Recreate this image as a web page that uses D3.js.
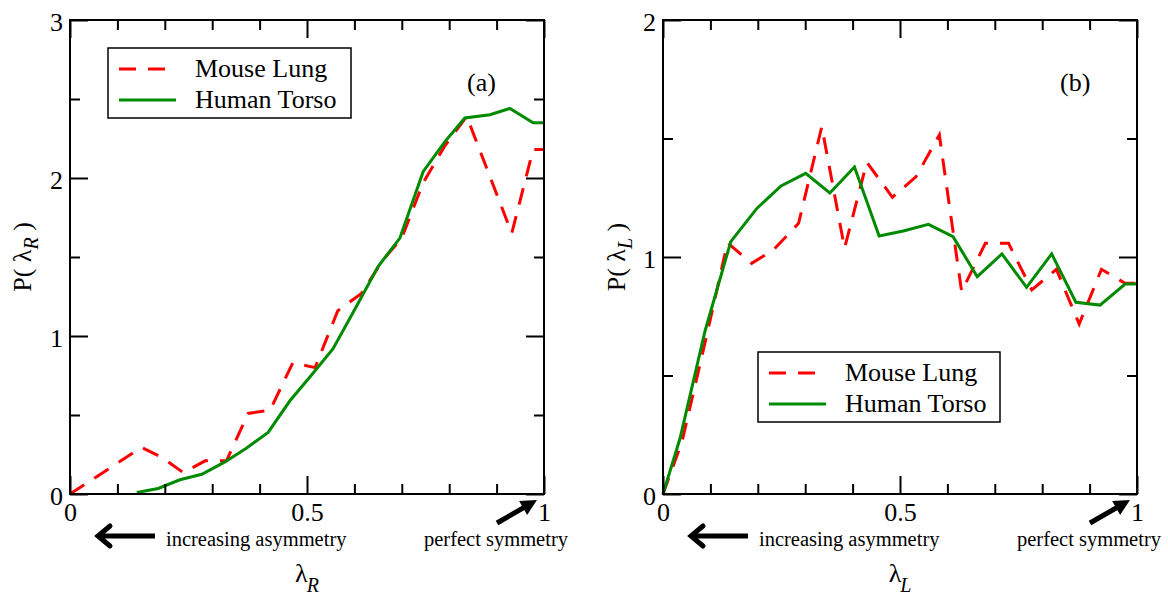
<!DOCTYPE html>
<meta charset="utf-8">
<head>
<script src="https://cdn.jsdelivr.net/npm/d3@7"></script>
<style>
  body { margin: 0; background: #fff; }
  text { font-family: "Liberation Serif", "Times New Roman", serif; fill: #000; }
</style>
</head>
<body>
<div id="chart"></div>
<script>
// panel (a) : distribution of lambda_R
const mouseRx = [0, 0.151, 0.195, 0.239, 0.285, 0.33, 0.376, 0.422, 0.47, 0.517, 0.565, 0.615, 0.66, 0.70, 0.745, 0.79, 0.837, 0.932, 0.977, 1.0];
const mouseRy = [0, 0.295, 0.23, 0.135, 0.21, 0.21, 0.51, 0.53, 0.83, 0.80, 1.16, 1.27, 1.48, 1.62, 1.97, 2.2, 2.39, 1.65, 2.18, 2.18];
const humanRx = [0.141, 0.186, 0.232, 0.278, 0.325, 0.372, 0.418, 0.464, 0.51, 0.555, 0.603, 0.65, 0.696, 0.745, 0.791, 0.833, 0.886, 0.928, 0.977, 1.0];
const humanRy = [0.01, 0.035, 0.09, 0.125, 0.2, 0.29, 0.39, 0.59, 0.755, 0.92, 1.18, 1.44, 1.62, 2.04, 2.23, 2.38, 2.40, 2.44, 2.35, 2.35];

// panel (b) : distribution of lambda_L
const mouseLx = [0, 0.04, 0.09, 0.136, 0.187, 0.233, 0.286, 0.335, 0.383, 0.43, 0.484, 0.534, 0.583, 0.63, 0.68, 0.729, 0.778, 0.83, 0.878, 0.925, 0.975, 1.0];
const mouseLy = [0, 0.22, 0.65, 1.06, 0.973, 1.03, 1.142, 1.55, 1.037, 1.40, 1.252, 1.339, 1.515, 0.854, 1.058, 1.058, 0.861, 0.948, 0.717, 0.948, 0.889, 0.889];
const humanLx = [0, 0.036, 0.089, 0.143, 0.198, 0.249, 0.301, 0.352, 0.404, 0.456, 0.507, 0.56, 0.612, 0.663, 0.715, 0.767, 0.82, 0.871, 0.922, 0.975, 1.0];
const humanLy = [0, 0.235, 0.69, 1.065, 1.205, 1.30, 1.353, 1.27, 1.38, 1.089, 1.11, 1.138, 1.086, 0.917, 1.013, 0.872, 1.013, 0.809, 0.797, 0.886, 0.886];

const seriesNames = ["Mouse Lung", "Human Torso"];
const xMajor = [0, 0.5, 1];
const xMinor = [0.1, 0.2, 0.3, 0.4, 0.6, 0.7, 0.8, 0.9];
const yMajorA = [0, 1, 2, 3], yMinorA = [0.5, 1.5, 2.5];
const yMajorB = [0, 1, 2], yMinorB = [0.5, 1.5];

const width = 1168, height = 595;
const plotTop = 20, plotBottom = 494;

const svg = d3.select("#chart").append("svg")
  .attr("width", width)
  .attr("height", height);

const red = "#ff0000", green = "#008a00";

function drawPanel(p) {
  const x = d3.scaleLinear().domain([0, 1]).range([p.left, p.right]);
  const y = d3.scaleLinear().domain([0, p.ymax]).range([plotBottom, plotTop]);
  const g = svg.append("g");

  // lines
  const line = d3.line().x(d => x(d[0])).y(d => y(d[1]));
  g.append("path")
    .datum(d3.zip(p.mouseX, p.mouseY))
    .attr("d", line)
    .attr("fill", "none").attr("stroke", red).attr("stroke-width", 3)
    .attr("stroke-dasharray", "17,12");
  g.append("path")
    .datum(d3.zip(p.humanX, p.humanY))
    .attr("d", line)
    .attr("fill", "none").attr("stroke", green).attr("stroke-width", 3);

  // frame
  g.append("rect")
    .attr("x", p.left).attr("y", plotTop)
    .attr("width", p.right - p.left).attr("height", plotBottom - plotTop)
    .attr("fill", "none").attr("stroke", "#000").attr("stroke-width", 2);

  // axes, ticks pointing inward
  const ax = (gen, tr, vals, size, labels) => {
    const a = g.append("g").attr("transform", tr)
      .call(gen.tickValues(vals).tickSizeInner(-size).tickSizeOuter(0)
        .tickPadding(labels ? p.pad : 0)
        .tickFormat(labels ? d3.format("") : ""));
    a.select(".domain").remove();
    a.selectAll("line").attr("stroke", "#000").attr("stroke-width", 2);
    a.selectAll("text").style("font-size", "26px")
      .style("font-family", "'Liberation Serif', serif").attr("fill", "#000");
    return a;
  };
  ax(d3.axisBottom(x), `translate(0,${plotBottom})`, xMajor, 18, true)
    .selectAll("text").attr("dy", "0.71em").attr("y", 9);
  ax(d3.axisBottom(x), `translate(0,${plotBottom})`, xMinor, 10, false);
  ax(d3.axisTop(x), `translate(0,${plotTop})`, xMajor, 18, false);
  ax(d3.axisTop(x), `translate(0,${plotTop})`, xMinor, 10, false);
  ax(d3.axisLeft(y), `translate(${p.left},0)`, p.yMajor, 18, true)
    .selectAll("text").attr("dy", "0.42em").attr("x", -7);
  ax(d3.axisLeft(y), `translate(${p.left},0)`, p.yMinor, 10, false);
  ax(d3.axisRight(y), `translate(${p.right},0)`, p.yMajor, 18, false);
  ax(d3.axisRight(y), `translate(${p.right},0)`, p.yMinor, 10, false);

  // y axis title
  const cy = (plotTop + plotBottom) / 2;
  const yt = g.append("text")
    .attr("transform", `translate(${p.ylabX},${cy}) rotate(-90)`)
    .attr("text-anchor", "middle")
    .style("font-size", "26px");
  yt.append("tspan").text("P( \u03bb");
  yt.append("tspan").text(p.sub).attr("dy", 7)
    .style("font-size", "20px").style("font-style", "italic");
  yt.append("tspan").text(" )").attr("dy", -7);

  // x axis title
  const xt = g.append("text")
    .attr("x", (p.left + p.right) / 2).attr("y", 582)
    .attr("text-anchor", "middle")
    .style("font-size", "26px");
  xt.append("tspan").text("\u03bb");
  xt.append("tspan").text(p.sub).attr("dy", 10).attr("dx", -1)
    .style("font-size", "20px").style("font-style", "italic");

  // panel tag
  g.append("text").attr("x", p.tagX).attr("y", 91)
    .style("font-size", "26px").text(p.tag);

  // arrows under the axis
  const ay = 536;
  const tip = p.left + 26;
  g.append("line").attr("x1", tip + 3).attr("x2", tip + 59)
    .attr("y1", ay).attr("y2", ay)
    .attr("stroke", "#000").attr("stroke-width", 5);
  g.append("path")
    .attr("d", `M${tip + 14},${ay - 10} L${tip + 2},${ay} L${tip + 14},${ay + 10}`)
    .attr("fill", "none").attr("stroke", "#000").attr("stroke-width", 5)
    .attr("stroke-linecap", "round");
  g.append("text").attr("x", p.left + 96).attr("y", 546)
    .style("font-size", "20.5px").text("increasing asymmetry");

  const hx = p.right - 7, hy = 500, tx = p.right - 47, ty = 523;
  const ang = Math.atan2(hy - ty, hx - tx);
  g.append("line").attr("x1", tx).attr("y1", ty)
    .attr("x2", hx - 8 * Math.cos(ang)).attr("y2", hy - 8 * Math.sin(ang))
    .attr("stroke", "#000").attr("stroke-width", 5);
  const hl = 16, hw = 8;
  const bx = hx - hl * Math.cos(ang), by = hy - hl * Math.sin(ang);
  g.append("path")
    .attr("d", `M${hx},${hy} L${bx - hw * Math.sin(ang)},${by + hw * Math.cos(ang)} L${bx + hw * Math.sin(ang)},${by - hw * Math.cos(ang)} Z`)
    .attr("fill", "#000");
  g.append("text").attr("x", p.right + 24).attr("y", 546)
    .attr("text-anchor", "end")
    .style("font-size", "20.5px").text("perfect symmetry");

  // legend
  const L = p.legend;
  g.append("rect").attr("x", L.x).attr("y", L.y).attr("width", L.w).attr("height", L.h)
    .attr("fill", "#fff").attr("stroke", "#000").attr("stroke-width", 1.5);
  [[red, "17,12"], [green, null]].forEach((s, i) => {
    const ly = L.y + 21 + i * 31;
    g.append("line").attr("x1", L.x + 11).attr("x2", L.x + 68)
      .attr("y1", ly).attr("y2", ly)
      .attr("stroke", s[0]).attr("stroke-width", 3)
      .attr("stroke-dasharray", s[1]);
    g.append("text").attr("x", L.x + 87).attr("y", ly + 8)
      .style("font-size", "26px").text(seriesNames[i]);
  });
}

drawPanel({
  left: 70, right: 544, ymax: 3, yMajor: yMajorA, yMinor: yMinorA, pad: 10,
  mouseX: mouseRx, mouseY: mouseRy, humanX: humanRx, humanY: humanRy,
  sub: "R", ylabX: 31, tag: "(a)", tagX: 467,
  legend: {x: 108, y: 48, w: 243, h: 70}
});
drawPanel({
  left: 663, right: 1137, ymax: 2, yMajor: yMajorB, yMinor: yMinorB, pad: 10,
  mouseX: mouseLx, mouseY: mouseLy, humanX: humanLx, humanY: humanLy,
  sub: "L", ylabX: 625, tag: "(b)", tagX: 1060,
  legend: {x: 758, y: 352, w: 242, h: 70}
});
</script>
</body>
